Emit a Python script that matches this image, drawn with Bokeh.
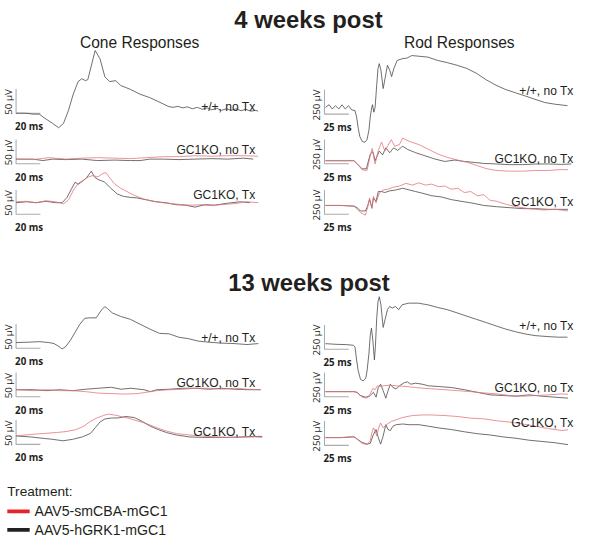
from bokeh.plotting import figure
from bokeh.models import Range1d
from bokeh.embed import file_html
from bokeh.resources import INLINE
from bokeh.core.properties import value

# ---------------- data (t in ms, amplitude in µV relative to pre-flash baseline) ----------------
# 4 weeks post - cone responses
cone4_wt_t = [0, 8, 14, 19, 24, 30, 35, 39, 43, 47, 51, 54, 57, 59, 62, 65, 69, 73, 77, 82, 86, 94, 102, 110,
              121, 125, 129, 133, 137, 141, 145, 149, 153, 157, 161, 165, 169, 173, 177, 181, 185, 189, 193, 197, 199]
cone4_wt_v = [0, 0, -2, -2, -11, -21, -30, -21, 5, 39, 65, 71, 67, 69, 99, 129, 112, 75, 65, 67, 57, 49, 39, 32,
              19, 14, 12, 14, 11, 13, 9, 12, 8, 11, 7, 10, 6, 9, 6, 9, 5, 8, 4, 6, 4]
cone4_notx_blk_t = [0, 14, 22, 30, 41, 54, 67, 81, 94, 102, 110, 121, 134, 147, 161, 174, 187, 195]
cone4_notx_blk_v = [0, 0, -3, 0, -1, 0, -3, -2, -3, -3, 0, 0, -1, 0, 1, 0, 2, 0]
cone4_notx_red_t = [0, 14, 27, 41, 54, 67, 81, 94, 107, 121, 134, 147, 161, 174, 187, 199]
cone4_notx_red_v = [0, -1, 3, 0, 2, 3, 2, 1, 3, 5, 5, 7, 6, 7, 7, 6]
cone4_tx_blk_t = [0, 8.5, 16.5, 24.5, 32.5, 37.9, 41.9, 45.9, 48.5, 51.2, 53.9, 57.9, 61.9, 64.5, 67.2, 72.5,
                  77.9, 83.2, 88.5, 93.9, 99.2, 107.2, 115.2, 123.2, 131.2, 139.2, 147.2, 155.2, 163.2, 173.9, 184.5, 192.5]
cone4_tx_blk_v = [-3, -1, -3, 0, -3, -3, 8, 27, 39, 35, 40, 48, 62, 50, 45, 40, 27, 15, 10, 8, 7, 3, -1, -3,
                  -7, -8, -12, -7, -8, -4, -1, -3]
cone4_tx_red_t = [0, 8.5, 16.5, 24.5, 32.5, 39.2, 43.2, 47.2, 51.2, 55.2, 59.2, 63.2, 67.2, 71.2, 73.9, 76.5,
                  80.5, 85.9, 91.2, 96.5, 104.5, 112.5, 120.5, 128.5, 136.5, 144.5, 152.5, 160.5, 168.5, 179.2, 189.9, 199.2]
cone4_tx_red_v = [-1, 0, -3, 1, -1, -5, 3, 23, 37, 43, 50, 53, 50, 57, 59, 50, 37, 27, 20, 13, 5, 0, -3, -5,
                  -7, -8, -7, -9, -7, -5, -1, -3]

# 4 weeks post - rod responses
rod4_wt_t = [0, 3.7, 7, 10.3, 13.7, 17, 20.3, 23.7, 27, 30.3, 32, 33.7, 35.3, 37.7, 40.3, 42.7, 44.7, 46, 47.3,
             48.3, 49.7, 51, 52.7, 54, 55.3, 57, 59.3, 61.3, 63.7, 66, 68, 70.3, 73.7, 78.7, 83.7, 88.7, 95.3,
             105.3, 115.3, 125.3, 135.3, 145.3, 155.3, 165.3, 175.3, 185.3, 195.3, 205.3, 215.3, 225.3, 235.3, 248.7]
rod4_wt_v = [0, 27, -17, 17, -17, 27, -17, 17, -27, -33, -100, -217, -300, -350, -360, -333, -233, -100, -17,
             27, -50, 0, 233, 400, 450, 383, 193, 300, 433, 383, 317, 400, 483, 500, 507, 533, 527,
             517, 483, 460, 433, 400, 350, 283, 227, 183, 150, 117, 83, 50, 33, 17]
rod4_notx_blk_t = [0, 16, 29.3, 32.7, 37.7, 42, 46, 48.7, 51, 55.3, 58.7, 62, 66, 70, 74.3, 79.3, 84.3, 92.7,
                   102.7, 112.7, 122.7, 132.7, 142.7, 152.7, 162.7, 176, 189.3, 202.7, 216, 229.3, 242.7, 252.7]
rod4_notx_blk_v = [0, 0, 0, -33, -83, -83, 67, 93, 0, 100, 60, 133, 83, 133, 107, 150, 117, 83,
                   50, 17, -7, 7, -7, -17, -27, -33, -40, -40, -33, -33, -37, -33]
rod4_notx_red_t = [0, 16, 29.3, 32.7, 37.7, 42.7, 46, 48, 51, 54.3, 57.7, 61, 64.3, 67.7, 71, 76, 79.3, 86, 96,
                   106, 116, 126, 136, 146, 156, 166, 176, 189.3, 202.7, 216, 229.3, 242.7, 249.3]
rod4_notx_red_v = [3, 3, 3, -33, -93, -100, 50, 127, -33, 107, 193, 100, 160, 217, 150, 167, 233, 200, 167,
                   117, 67, 33, 7, -17, -50, -83, -100, -107, -107, -100, -100, -90, -93]
rod4_tx_blk_t = [0, 16, 29.3, 32.7, 36, 41, 43.3, 45.3, 47.7, 49.3, 52, 54.3, 57.7, 61, 66, 72.7, 79.3, 86, 92.7,
                 99.3, 109.3, 119.3, 129.3, 139.3, 149.3, 162.7, 176, 189.3, 202.7, 216, 229.3, 242.7, 249.3]
rod4_tx_blk_v = [0, 0, -7, -23, -57, -57, -7, 60, -23, 77, 43, 143, 143, 133, 150, 160, 177, 160, 143,
                 127, 100, 87, 60, 43, 27, 0, -13, -23, -33, -33, -40, -40, -40]
rod4_tx_red_t = [0, 16, 29.3, 32.7, 36, 41, 43.3, 45.3, 47.7, 49.3, 52, 55.3, 59.3, 64.3, 69.3, 76, 82.7, 89.3,
                 96, 102.7, 109.3, 116, 122.7, 129.3, 136, 142.7, 149.3, 156, 162.7, 169.3, 176, 186, 196, 209.3,
                 222.7, 236, 249.3]
rod4_tx_red_v = [0, 0, -7, -40, -73, -100, -23, 77, -33, 93, 27, 127, 160, 167, 187, 200, 227, 210, 233, 210,
                 220, 193, 200, 167, 177, 133, 143, 100, 110, 53, 43, 10, -13, -33, -47, -40, -57]

# 13 weeks post - cone responses
cone13_wt_t = [0, 11.2, 19.2, 27.2, 31.2, 35.2, 37.9, 40.5, 44.5, 48.5, 52.5, 56.5, 60.5, 65.9, 68.5, 71.2,
               73.1, 75.2, 79.2, 85.9, 93.9, 101.9, 109.9, 117.9, 125.9, 133.9, 141.9, 149.9, 157.9, 168.5,
               179.2, 189.9, 199.2]
cone13_wt_v = [-1, 0, 1, -1, -3, -9, -14, -10, 3, 20, 37, 49, 50, 50, 60, 69, 73, 69, 60, 53, 47, 37, 27, 18,
               17, 10, 7, 2, 0, -2, -3, -5, -3]
cone13_notx_blk_t = [0, 14.4, 25.1, 35.7, 46.4, 57.1, 67.7, 78.4, 86.4, 94.4, 105.1, 110.4, 115.7, 126.4,
                     137.1, 147.7, 158.4, 169.1, 179.7, 190.4, 201.1]
cone13_notx_blk_v = [0, 0, -2, 0, -2, 1, 3, 5, 1, 3, 0, -4, 0, 1, 3, 3, 1, 3, 1, 0, 0]
cone13_notx_red_t = [0, 14.4, 25.1, 35.7, 46.4, 57.1, 67.7, 78.4, 89.1, 99.7, 107.7, 115.7, 126.4, 137.1,
                     147.7, 158.4, 169.1, 179.7, 190.4, 201.1]
cone13_notx_red_v = [0, -2, 0, -2, -2, -4, -7, -8, -9, -8, -5, -2, 0, 1, 3, 3, 1, 3, 1, 0]
cone13_tx_blk_t = [0, 11.7, 22.4, 30.4, 38.4, 46.4, 54.4, 61.1, 65.1, 69.1, 73.1, 78.4, 83.7, 90.4, 97.1,
                   103.7, 110.4, 117.1, 123.7, 131.7, 142.4, 153.1, 163.7, 174.4, 185.1, 195.7, 202.4]
cone13_tx_blk_v = [0, -2, -5, -7, -10, -7, -2, 5, 17, 29, 35, 37, 37, 40, 38, 30, 20, 13, 7, 2, -2, -3, -3,
                   -3, -2, -1, -1]
cone13_tx_red_t = [0, 11.7, 22.4, 33.1, 41.1, 49.1, 55.7, 61.1, 66.4, 71.7, 75.7, 81.1, 86.4, 91.7, 99.7,
                   107.7, 115.7, 123.7, 131.7, 142.4, 153.1, 163.7, 174.4, 185.1, 195.7, 202.4]
cone13_tx_red_v = [0, 3, 5, 7, 9, 13, 20, 30, 37, 42, 45, 43, 40, 37, 31, 25, 17, 10, 5, 2, 0, -2, -3, -3, -2, -3]

# 13 weeks post - rod responses
rod13_wt_t = [0, 12, 22, 28.7, 30.3, 32, 33.7, 36, 38.7, 41.3, 42.7, 44.7, 46, 47.3, 48.7, 50.3, 51.3, 52.7,
              54, 55.3, 57, 59.3, 61.3, 63.7, 66, 68.7, 72, 75.3, 78.7, 85.3, 95.3, 105.3, 115.3, 125.3, 135.3,
              145.3, 155.3, 165.3, 175.3, 185.3, 195.3, 205.3, 215.3, 228.7, 238.7, 248.7]
rod13_wt_v = [0, -7, -10, -17, -33, -167, -283, -367, -383, -360, -283, -100, 83, 160, 33, -167, -33, 267,
              433, 483, 400, 167, 250, 350, 383, 367, 383, 350, 400, 417, 417, 400, 373, 350, 317,
              283, 250, 217, 183, 150, 123, 100, 83, 73, 67, 67]
rod13_notx_blk_t = [0, 16, 29.3, 32.7, 36, 41, 45.3, 49.3, 52, 54.3, 56.7, 59.3, 62, 64.3, 66.7, 69.3, 72.7,
                    76, 81, 84.3, 87.7, 92.7, 99.3, 106, 116, 129.3, 142.7, 156, 169.3, 182.7, 196, 209.3,
                    222.7, 236, 249.3]
rod13_notx_blk_v = [0, 0, 0, -7, -40, -57, -47, -7, -57, 43, 77, 10, -67, 10, 77, 43, 27, 60, 93, 100, 77,
                    87, 77, 60, 53, 43, 20, -7, -33, -40, -47, -33, -47, -57, -67]
rod13_notx_red_t = [0, 16, 29.3, 32.7, 37.7, 42.7, 46, 48.7, 51, 53.3, 56, 59.3, 66, 72.7, 82.7, 92.7, 102.7,
                    112.7, 122.7, 136, 149.3, 162.7, 176, 189.3, 202.7, 216, 229.3, 242.7, 249.3]
rod13_notx_red_v = [0, 0, 0, -13, -57, -67, -23, 33, 20, 60, 53, 60, 67, 60, 53, 43, 33, 27, 20, 10, 0,
                    -13, -23, -40, -47, -40, -33, -23, -27]
rod13_tx_blk_t = [0, 16, 29.3, 32.7, 37.7, 42.7, 46, 49.3, 52, 54.3, 56.7, 59.3, 62, 64.3, 66.7, 69.3, 72.7,
                  79.3, 86, 96, 106, 116, 129.3, 142.7, 156, 169.3, 182.7, 196, 209.3, 222.7, 236, 249.3]
rod13_tx_blk_v = [0, 0, 7, -17, -50, -67, -60, 33, 83, 0, -67, 17, 133, 83, 73, 117, 133, 140, 133, 133,
                  117, 100, 83, 60, 40, 27, 7, -7, -27, -40, -53, -73]
rod13_tx_red_t = [0, 16, 29.3, 32.7, 37.7, 42.7, 46, 47.7, 49.3, 51, 52.7, 54.7, 56.7, 59.3, 62.7, 67.7, 72.7,
                  79.3, 89.3, 99.3, 109.3, 122.7, 136, 149.3, 162.7, 176, 189.3, 202.7, 216, 229.3, 242.7, 249.3]
rod13_tx_red_v = [0, 0, 13, -17, -60, -73, -33, 50, 100, 67, 17, 100, 150, 100, 133, 167, 183, 207, 227,
                  233, 233, 227, 217, 200, 193, 173, 160, 140, 117, 93, 73, 80]

# texts
time_titles = ["4 weeks post", "13 weeks post"]
column_titles = ["Cone Responses", "Rod Responses"]
condition_labels = ["+/+, no Tx", "GC1KO, no Tx", "GC1KO, Tx"]
legend_title = "Treatment:"
legend_labels = ["AAV5-smCBA-mGC1", "AAV5-hGRK1-mGC1"]
cone_scale = (20, 50)    # ms, µV
rod_scale = (25, 250)    # ms, µV

# ---------------- layout / style ----------------
W, H = 576, 542
RW, RH = 592, 558            # reference coordinate space
K = W / RW
FONT = "Liberation Sans"
SFONT = "Open Sans"
TXT = "#231f20"
BLK = "#474747"
RED = "#e4727a"
BAR = "#ababab"


def fs(px):
    return f"{px * K:.2f}px"


p = figure(width=W, height=H, x_range=Range1d(0, RW), y_range=Range1d(RH, 0),
           output_backend="svg", toolbar_location=None, min_border=0,
           x_axis_location=None, y_axis_location=None)
p.xgrid.visible = False
p.ygrid.visible = False
p.outline_line_color = None

COLS = {
    "cone": dict(x0=16, sx=1.25, sy=0.5, scale=cone_scale, bar_x=16, vlab_x=8, vlab_dy=-11.5, lab_right=262),
    "rod": dict(x0=334, sx=1.0, sy=0.1, scale=rod_scale, bar_x=333, vlab_x=325, vlab_dy=-9.5, lab_right=589),
}
for name, c in COLS.items():
    p.extra_x_ranges[name] = Range1d(-c["x0"] / c["sx"], (RW - c["x0"]) / c["sx"])

# (column, trace baseline y, scale-bar bottom y, label index, label baseline y, traces)
panels = [
    ("cone", 116.0, 116, 0, 110, [(cone4_wt_t, cone4_wt_v, BLK)]),
    ("cone", 163.3, 168, 1, 154, [(cone4_notx_blk_t, cone4_notx_blk_v, BLK), (cone4_notx_red_t, cone4_notx_red_v, RED)]),
    ("cone", 206.7, 220, 2, 200, [(cone4_tx_blk_t, cone4_tx_blk_v, BLK), (cone4_tx_red_t, cone4_tx_red_v, RED)]),
    ("rod", 110.0, 117, 0, 93, [(rod4_wt_t, rod4_wt_v, BLK)]),
    ("rod", 165.0, 168, 1, 163, [(rod4_notx_blk_t, rod4_notx_blk_v, BLK), (rod4_notx_red_t, rod4_notx_red_v, RED)]),
    ("rod", 211.0, 220, 2, 207, [(rod4_tx_blk_t, rod4_tx_blk_v, BLK), (rod4_tx_red_t, rod4_tx_red_v, RED)]),
    ("cone", 351.7, 358, 0, 347, [(cone13_wt_t, cone13_wt_v, BLK)]),
    ("cone", 400.7, 408, 1, 394, [(cone13_notx_blk_t, cone13_notx_blk_v, BLK), (cone13_notx_red_t, cone13_notx_red_v, RED)]),
    ("cone", 448.3, 457, 2, 444, [(cone13_tx_blk_t, cone13_tx_blk_v, BLK), (cone13_tx_red_t, cone13_tx_red_v, RED)]),
    ("rod", 353.3, 359, 0, 335, [(rod13_wt_t, rod13_wt_v, BLK)]),
    ("rod", 402.7, 408, 1, 399, [(rod13_notx_blk_t, rod13_notx_blk_v, BLK), (rod13_notx_red_t, rod13_notx_red_v, RED)]),
    ("rod", 450.0, 458, 2, 435, [(rod13_tx_blk_t, rod13_tx_blk_v, BLK), (rod13_tx_red_t, rod13_tx_red_v, RED)]),
]

for i, (col, y0, ybar, li, ly, traces) in enumerate(panels):
    c = COLS[col]
    yname = f"panel{i}"
    p.extra_y_ranges[yname] = Range1d((y0 - RH) / c["sy"], y0 / c["sy"])
    bt, bv = c["scale"]
    t0 = (c["bar_x"] - c["x0"]) / c["sx"]
    vb = (y0 - ybar) / c["sy"]
    # L-shaped scale bar
    p.line([t0, t0, t0 + bt], [vb + bv, vb, vb], line_color=BAR, line_width=1.1 * K,
           x_range_name=col, y_range_name=yname)
    for t, v, colr in traces:
        p.line(t, v, line_color=colr, line_width=0.8 * K, line_join="round",
               x_range_name=col, y_range_name=yname)
    # scale labels
    p.text(x=[c["bar_x"] - 1], y=[ybar + 14], text=[f"{bt} ms"], text_font=value(SFONT),
           text_font_style="bold", text_font_size=fs(10), text_color=TXT,
           text_align="left", text_baseline="alphabetic")
    p.text(x=[c["vlab_x"]], y=[ybar + c["vlab_dy"]], text=[f"{bv} µV"], text_font=value(SFONT),
           text_font_size=fs(10), text_color=TXT, angle=1.5708,
           text_align="center", text_baseline="middle")
    # condition label
    p.text(x=[c["lab_right"]], y=[ly], text=[condition_labels[li]], text_font=value(FONT),
           text_font_size=fs(12.4), text_color=TXT, text_align="right", text_baseline="alphabetic")

# titles
p.text(x=[316.5, 317], y=[20, 290], text=time_titles, text_font=value(FONT), text_font_style="bold",
       text_font_size=fs(24.5), text_color=TXT, text_align="center", text_baseline="alphabetic")
p.text(x=[143, 471.5], y=[43.5, 43.5], text=column_titles, text_font=value(FONT),
       text_font_size=fs(16), text_color=TXT, text_align="center", text_baseline="alphabetic")

# legend
p.text(x=[7], y=[506], text=[legend_title], text_font=value(FONT), text_font_size=fs(14),
       text_color=TXT, text_align="left", text_baseline="alphabetic")
for lab, colr, yy in zip(legend_labels, ["#e3242b", "#231f20"], [526, 545]):
    p.line([7, 30], [yy, yy], line_color=colr, line_width=4 * K)
    p.text(x=[35], y=[yy], text=[lab], text_font=value(FONT), text_font_size=fs(14.5),
           text_color=TXT, text_align="left", text_baseline="middle")

open("out.html", "w").write(file_html(p, INLINE))
